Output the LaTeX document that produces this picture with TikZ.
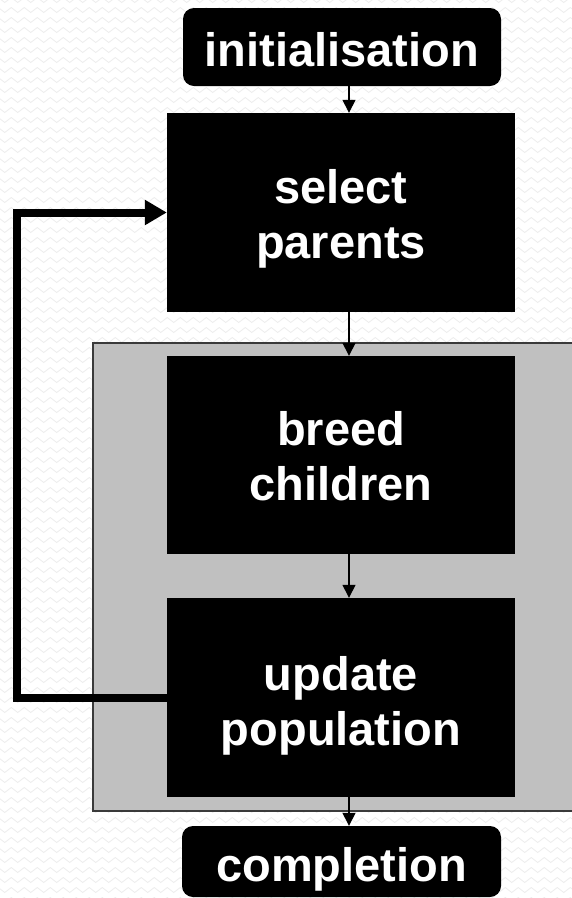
\documentclass[tikz,border=0pt]{standalone}
\usepackage{fontspec}
\setmainfont{Liberation Sans}
\usetikzlibrary{arrows.meta,decorations.pathmorphing}
\definecolor{zig}{HTML}{EDEDED}
\definecolor{panel}{HTML}{C0C0C0}
\definecolor{panelline}{HTML}{3A3A3A}
\tikzset{
  blk/.style={fill=black, draw=none, inner sep=0pt},
  endbox/.style={blk, rounded corners=11pt},
  txt/.style={text=white, align=center, inner sep=0pt,
    font=\fontsize{47}{55}\selectfont\bfseries},
  flow/.style={draw=black, line width=1.4pt, -{Triangle[width=13pt,length=13pt]}},
  loopline/.style={draw=black, line width=8pt, -{Triangle[width=24pt,length=22pt]}}
}
\begin{document}
\begin{tikzpicture}[x=1pt,y=-1pt]
\useasboundingbox (0,0) rectangle (572,898);
\fill[white] (0,0) rectangle (572,898);
% faint zigzag background
\foreach \r in {0,10,...,900}{
  \draw[zig, line width=0.8pt, decorate, decoration={zigzag, segment length=13pt, amplitude=2.5pt}]
    (-5,\r) -- (580,\r);
}
% grey panel
\node[fill=panel, draw=panelline, line width=1.5pt, minimum width=486pt, minimum height=468pt,
  inner sep=0pt, anchor=north west] (panel) at (92,342) {};
% boxes
\node[endbox, minimum width=318pt, minimum height=78pt] (init) at (342,47) {};
\node[blk, minimum width=348pt, minimum height=199pt] (select) at (341,212.5) {};
\node[blk, minimum width=348pt, minimum height=198pt] (breed) at (341,455) {};
\node[blk, minimum width=348pt, minimum height=199pt] (update) at (341,697.5) {};
\node[endbox, minimum width=319pt, minimum height=71pt] (compl) at (341.5,861.5) {};
% texts
\node[txt] (tinit) at ([yshift=-3pt]init.center) {initialisation};
\node[txt] (tselect) at ([yshift=-6pt]select.center) {select\\parents};
\node[txt] (tbreed) at ([yshift=-1pt]breed.center) {breed\\children};
\node[txt] (tupdate) at ([yshift=-8pt]update.center) {update\\population};
\node[txt] (tcompl) at ([yshift=-8pt]compl.center) {completion};
% arrow column
\coordinate (ax) at (349,0);
\coordinate (lp) at (17,0);
\draw[flow] (init.south -| ax) -- (select.north -| ax);
\draw[flow] (select.south -| ax) -- (breed.north -| ax);
\draw[flow] (breed.south -| ax) -- (update.north -| ax);
\draw[flow] (update.south -| ax) -- (compl.north -| ax);
% feedback loop
\draw[loopline] (update.west) -- (update.west -| lp) |- (select.west);
\end{tikzpicture}
\end{document}
